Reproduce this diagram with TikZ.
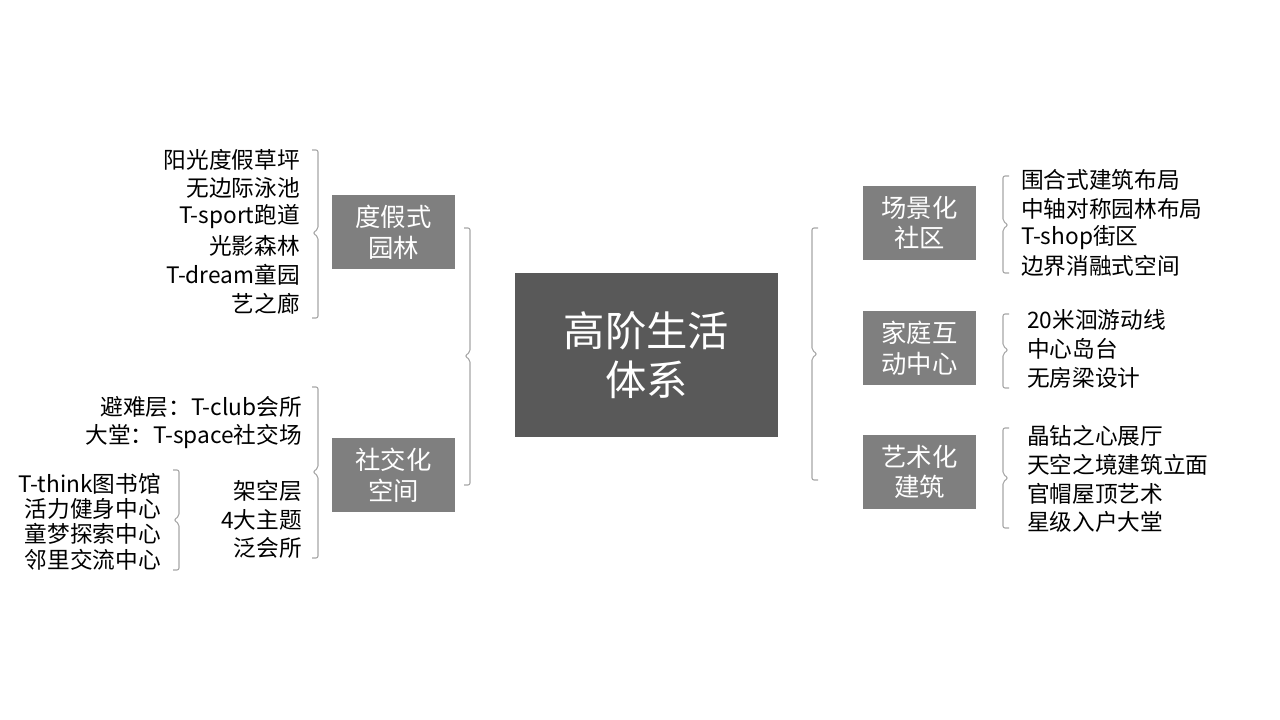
\documentclass[tikz,border=0pt]{standalone}
\usepackage{fontspec}
\newfontfamily\cjk{Noto Sans CJK SC}
\definecolor{dark}{HTML}{595959}
\definecolor{mid}{HTML}{7F7F7F}
\definecolor{ln}{HTML}{A6A6A6}
\begin{document}
\begin{tikzpicture}[x=0.75pt,y=-0.75pt,font=\cjk,
 box/.style={fill=mid,text=white,font=\cjk\fontsize{19}{23}\selectfont,align=center,inner sep=0pt,minimum height=55.5pt},
 li/.style={font=\cjk\fontsize{17}{20}\selectfont,inner sep=0pt},
 br/.style={draw=ln,line width=0.8pt,rounded corners=1.5pt}]
\useasboundingbox (0,0) rectangle (1280,720);
\newcommand\lbr[4]{\draw[br] (#1+6,#2) -- (#1,#2) -- (#1,#4-4) -- (#1+5,#4) -- (#1,#4+4) -- (#1,#3) -- (#1+6,#3);}
\newcommand\rbr[4]{\draw[br] (#1-6,#2) -- (#1,#2) -- (#1,#4-4) -- (#1-5,#4) -- (#1,#4+4) -- (#1,#3) -- (#1-6,#3);}
\node[fill=dark,text=white,minimum width=197pt,minimum height=123pt,inner sep=0pt,align=center,font=\cjk\fontsize{31}{37}\selectfont] (c) at (646.5,355) {高阶生活\\体系};
\node[box,minimum width=92pt] (a) at (393.5,232) {度假式\\园林};
\node[box,minimum width=92pt] (b) at (393.5,475) {社交化\\空间};
\node[box,minimum width=85pt] (d) at (919.5,223) {场景化\\社区};
\node[box,minimum width=85pt] (e) at (919.5,348) {家庭互\\动中心};
\node[box,minimum width=85pt] (f) at (919.5,472) {艺术化\\建筑};
% big brackets
\rbr{470}{228}{485}{356}
\lbr{812}{228}{480}{354}
% left lists
\rbr{318}{150}{318}{233}
\foreach \t/\y [count=\i] in {阳光度假草坪/160,无边际泳池/188,T-sport跑道/217,光影森林/246,T-dream童园/275,艺之廊/304}
 \node[li,anchor=east] (l\i) at (300,\y) {\t};
\rbr{318}{387}{558}{472}
\foreach \t/\y [count=\i] in {避难层：T-club会所/407,大堂：T-space社交场/436,架空层/491,4大主题/520,泛会所/548}
 \node[li,anchor=east] (s\i) at (302,\y) {\t};
\rbr{179}{470}{570}{520}
\foreach \t/\y [count=\i] in {T-think图书馆/484,活力健身中心/509,童梦探索中心/534,邻里交流中心/560}
 \node[li,anchor=east] (t\i) at (161,\y) {\t};
% right lists
\lbr{1003}{176}{273}{225}
\foreach \t/\y [count=\i] in {围合式建筑布局/180,中轴对称园林布局/209,T-shop街区/238,边界消融式空间/266}
 \node[li,anchor=west] (r\i) at (1021,\y) {\t};
\lbr{1003}{314}{388}{350}
\foreach \t/\y [count=\i] in {20米洄游动线/320,中心岛台/349,无房梁设计/378}
 \node[li,anchor=west] (h\i) at (1027,\y) {\t};
\lbr{1003}{428}{528}{478}
\foreach \t/\y [count=\i] in {晶钻之心展厅/436,天空之境建筑立面/465,官帽屋顶艺术/494,星级入户大堂/522}
 \node[li,anchor=west] (g\i) at (1027,\y) {\t};
\end{tikzpicture}
\end{document}
